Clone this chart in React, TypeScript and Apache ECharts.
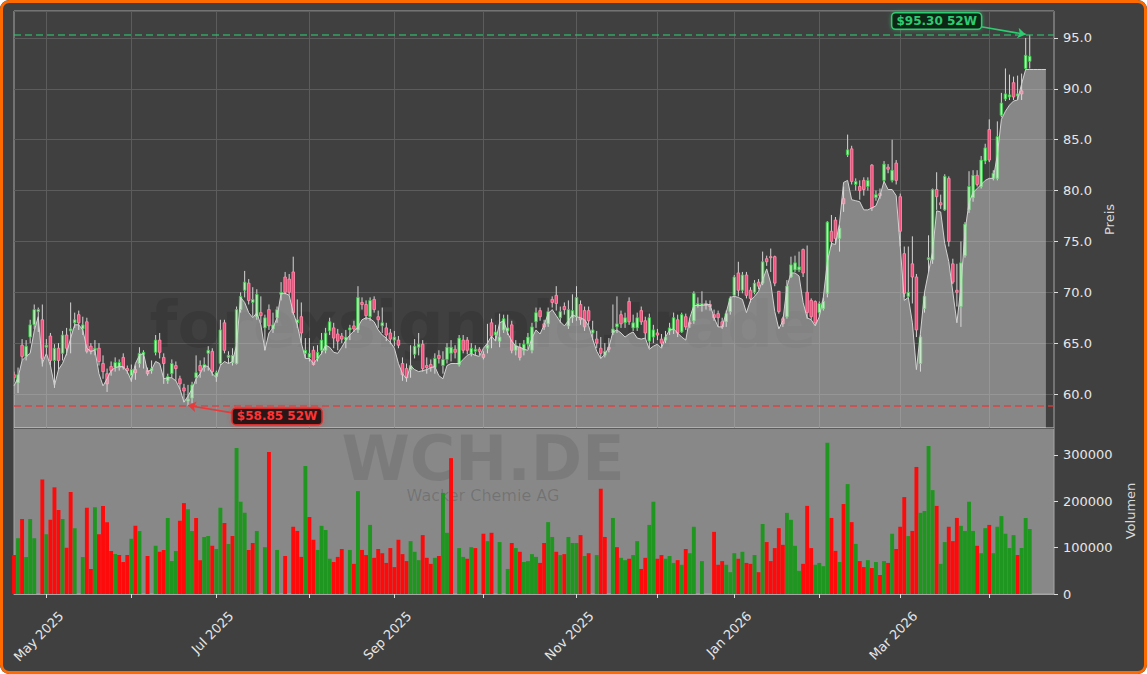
import React, { useEffect, useRef } from 'react';
import * as echarts from 'echarts';

// ---------- categories (Xetra trading days) ----------
const FIRST_TRADING_DAY = '2025-04-17';
const CATEGORY_COUNT = 258;
const EXCHANGE_HOLIDAYS = [
  '2025-04-18', '2025-04-21', '2025-05-01', '2025-12-24', '2025-12-25',
  '2025-12-26', '2025-12-31', '2026-01-01', '2026-04-03', '2026-04-06',
];
const MONTH_NAMES = ['Jan', 'Feb', 'Mar', 'Apr', 'May', 'Jun', 'Jul', 'Aug', 'Sep', 'Oct', 'Nov', 'Dec'];

// ---------- price data ----------
const OPEN = [
  61.9, 61.1, 64.8, 63.7, 65.6, 66.8, 68.1, 67.3, 64.6, 65.7, 63.3, 64.5, 64.0, 65.8, 66.2, 67.0, 67.8, 66.4, 67.1, 64.7,
  64.3, 64.5, 63.0, 62.0, 62.7, 62.6, 62.6, 63.6, 62.5, 61.8, 62.4, 63.0, 63.9, 62.3, 62.3, 64.1, 65.3, 63.6, 61.3, 62.0,
  62.8, 61.5, 60.6, 59.3, 59.6, 61.6, 62.8, 62.6, 64.0, 64.2, 61.7, 63.0, 67.0, 63.6, 63.1, 63.0, 68.3, 70.2, 70.9, 69.0,
  67.6, 68.0, 66.5, 68.3, 66.4, 67.5, 69.8, 71.5, 71.3, 72.0, 67.0, 67.6, 64.0, 63.6, 64.3, 63.5, 64.3, 64.3, 66.2, 66.5,
  65.9, 65.7, 65.3, 66.3, 66.7, 66.3, 69.0, 68.8, 67.6, 69.3, 67.6, 66.7, 66.5, 66.0, 65.3, 65.3, 63.0, 62.5, 62.4, 63.9,
  64.6, 64.9, 62.8, 62.9, 62.6, 63.8, 62.8, 63.4, 64.0, 64.4, 62.9, 65.3, 65.3, 64.0, 64.2, 64.4, 63.9, 64.5, 67.0, 65.8,
  65.2, 66.3, 66.2, 66.8, 64.3, 64.6, 64.3, 64.9, 64.3, 67.1, 68.2, 66.9, 66.9, 69.3, 69.7, 67.5, 68.6, 66.7, 67.5, 67.6,
  68.8, 68.2, 68.2, 66.0, 65.4, 64.5, 63.8, 64.6, 66.0, 66.6, 67.8, 67.0, 69.1, 66.5, 66.5, 68.2, 67.2, 65.2, 65.6, 66.0,
  65.4, 65.3, 66.2, 66.3, 67.3, 66.1, 67.6, 67.0, 67.2, 68.7, 68.7, 68.9, 68.8, 67.8, 67.9, 67.1, 67.1, 68.1, 69.7, 71.9,
  70.2, 71.7, 70.2, 70.0, 71.0, 70.9, 73.3, 73.5, 73.5, 70.1, 67.4, 67.6, 71.5, 72.2, 72.2, 74.2, 70.0, 69.2, 69.1, 68.0,
  68.4, 69.9, 76.0, 77.1, 75.3, 79.2, 83.5, 84.1, 80.6, 80.4, 81.0, 80.4, 82.5, 79.3, 79.7, 81.0, 82.3, 81.0, 82.7, 79.4,
  73.8, 69.6, 72.8, 71.5, 63.0, 68.4, 73.2, 73.2, 80.1, 78.8, 78.1, 81.2, 72.8, 70.2, 68.6, 73.6, 78.1, 79.3, 81.5, 80.4,
  82.9, 86.0, 81.2, 81.2, 87.4, 89.0, 89.2, 90.6, 89.3, 89.8, 92.0, 92.7,
];
const CLOSE = [
  61.6, 61.9, 63.7, 64.7, 66.8, 68.3, 68.3, 63.5, 64.8, 63.3, 64.5, 63.3, 65.8, 64.5, 66.4, 67.3, 67.0, 66.8, 64.2, 64.2,
  64.5, 63.2, 62.2, 61.0, 62.3, 63.1, 63.1, 62.6, 62.3, 62.4, 62.1, 64.0, 64.1, 62.0, 62.5, 65.3, 64.1, 63.0, 61.7, 63.0,
  62.5, 61.0, 60.3, 59.5, 60.9, 62.1, 62.3, 62.9, 64.3, 62.2, 62.1, 66.3, 64.3, 63.8, 63.8, 68.3, 69.6, 71.0, 69.2, 69.3,
  69.8, 67.7, 67.5, 66.7, 66.8, 68.3, 70.0, 70.0, 70.0, 68.0, 67.3, 66.0, 64.3, 64.0, 62.9, 64.1, 65.3, 66.0, 67.1, 65.5,
  65.2, 65.4, 65.6, 66.5, 66.4, 69.5, 68.8, 67.7, 69.2, 68.3, 67.3, 67.0, 65.8, 65.4, 65.6, 64.8, 61.9, 61.6, 62.8, 64.7,
  64.9, 62.5, 62.6, 62.6, 63.5, 63.5, 63.4, 64.6, 64.6, 64.1, 65.5, 64.3, 64.3, 64.5, 64.4, 64.2, 63.6, 64.8, 65.7, 66.1,
  65.6, 67.4, 66.5, 64.3, 64.8, 63.6, 64.9, 65.6, 66.6, 68.0, 67.6, 66.6, 68.1, 69.0, 68.9, 68.1, 68.3, 68.3, 68.2, 69.5,
  67.3, 66.6, 67.2, 66.3, 65.0, 64.0, 64.2, 64.4, 66.4, 66.9, 66.9, 67.5, 67.1, 67.0, 67.5, 67.1, 66.0, 67.5, 66.3, 65.8,
  65.0, 65.6, 66.5, 67.5, 66.0, 67.8, 66.6, 66.9, 69.9, 68.9, 68.9, 68.7, 68.6, 67.5, 67.5, 66.6, 67.9, 69.4, 71.5, 70.2,
  71.7, 69.7, 69.4, 70.9, 70.6, 73.0, 73.0, 73.4, 70.9, 68.1, 66.9, 70.6, 72.7, 72.9, 72.5, 71.9, 68.0, 67.6, 67.0, 68.9,
  69.1, 76.9, 75.0, 75.3, 76.3, 78.7, 84.0, 80.9, 80.9, 80.0, 80.1, 81.0, 78.3, 79.6, 79.5, 82.6, 82.1, 82.0, 81.0, 76.0,
  69.9, 70.0, 71.5, 66.3, 65.6, 69.6, 73.4, 80.1, 79.4, 78.6, 81.4, 75.0, 71.0, 70.0, 72.9, 76.7, 80.4, 81.5, 80.6, 83.0,
  84.2, 83.0, 81.7, 85.3, 88.6, 89.5, 89.4, 89.2, 89.5, 89.5, 93.3, 93.2,
];
const LOW = [
  61.2, 60.1, 63.3, 63.3, 65.0, 66.4, 66.1, 62.7, 64.0, 62.8, 60.6, 62.4, 63.3, 63.8, 64.0, 66.5, 66.3, 65.8, 64.0, 63.9,
  63.8, 62.8, 61.5, 60.2, 61.8, 62.2, 62.3, 62.4, 62.0, 61.2, 61.4, 62.6, 62.5, 61.8, 62.0, 63.8, 63.5, 61.0, 61.0, 61.6,
  61.3, 60.5, 59.2, 58.85, 59.1, 61.0, 61.6, 62.2, 62.3, 61.8, 61.2, 62.8, 64.0, 63.0, 62.8, 62.9, 68.0, 69.5, 68.8, 67.6,
  67.3, 67.0, 64.3, 66.3, 66.0, 67.0, 69.2, 69.8, 69.7, 67.8, 66.5, 65.0, 63.5, 63.2, 62.8, 63.2, 63.9, 64.0, 65.8, 64.5,
  64.3, 65.0, 64.5, 65.3, 66.1, 66.0, 68.3, 67.3, 67.2, 68.0, 66.5, 66.0, 65.2, 64.9, 64.7, 64.5, 61.3, 61.2, 61.6, 63.5,
  63.8, 62.2, 62.0, 62.2, 62.0, 63.0, 62.0, 63.0, 63.2, 63.5, 62.7, 64.0, 63.9, 63.7, 63.8, 63.8, 63.4, 64.0, 64.5, 65.2,
  64.6, 66.0, 65.8, 64.0, 63.8, 63.3, 63.8, 64.4, 64.0, 66.5, 67.2, 66.3, 66.6, 68.5, 68.2, 67.0, 67.8, 66.4, 67.0, 67.2,
  66.8, 66.2, 66.8, 65.3, 64.5, 63.5, 63.6, 64.1, 65.8, 66.0, 66.5, 66.5, 66.8, 66.2, 66.2, 66.8, 65.5, 64.5, 65.0, 65.3,
  64.6, 65.0, 65.8, 65.9, 65.6, 66.0, 66.3, 66.5, 66.9, 68.5, 68.1, 68.3, 68.2, 67.2, 66.6, 66.4, 66.6, 67.8, 69.5, 69.6,
  69.9, 69.4, 69.0, 69.8, 70.3, 70.7, 72.6, 72.0, 70.6, 67.9, 66.6, 67.4, 71.4, 72.0, 72.0, 71.5, 67.4, 67.3, 66.8, 67.6,
  68.2, 69.5, 74.5, 74.8, 74.0, 77.9, 83.3, 80.6, 80.0, 79.1, 79.5, 80.0, 78.0, 79.0, 79.2, 80.8, 81.7, 80.8, 80.6, 74.5,
  69.5, 69.5, 68.9, 65.6, 62.2, 68.0, 72.0, 72.8, 78.1, 78.2, 78.0, 74.5, 70.8, 68.6, 66.6, 73.4, 77.8, 78.9, 80.4, 80.2,
  82.6, 82.8, 81.0, 81.0, 87.2, 88.8, 88.9, 88.9, 88.9, 88.9, 91.9, 92.0,
];
const HIGH = [
  62.2, 62.6, 65.4, 65.3, 67.3, 68.8, 68.5, 68.8, 65.4, 66.0, 64.9, 65.0, 66.2, 66.5, 69.0, 68.0, 68.2, 67.6, 67.5, 65.0,
  65.3, 65.0, 63.8, 62.5, 63.2, 63.6, 63.4, 64.0, 62.8, 62.9, 62.8, 64.6, 64.3, 62.6, 63.3, 65.8, 66.0, 64.0, 62.0, 63.4,
  63.2, 61.8, 61.0, 60.9, 61.2, 63.8, 63.3, 63.6, 64.7, 64.5, 62.3, 67.3, 67.3, 64.2, 64.5, 68.6, 70.0, 72.1, 71.3, 70.5,
  70.3, 69.6, 67.8, 68.8, 68.0, 68.6, 71.0, 72.0, 71.8, 73.5, 69.3, 69.0, 65.5, 65.5, 64.7, 64.8, 66.0, 66.5, 67.5, 67.0,
  66.4, 66.0, 66.3, 66.8, 67.2, 70.6, 69.5, 69.2, 69.5, 69.6, 68.2, 68.5, 67.0, 66.4, 66.2, 65.7, 63.6, 63.0, 64.8, 65.4,
  66.0, 65.3, 63.6, 63.4, 64.0, 64.3, 64.2, 65.0, 65.3, 64.8, 65.8, 65.8, 65.6, 65.0, 64.8, 64.6, 64.2, 66.9, 67.4, 66.8,
  67.9, 67.8, 67.8, 67.2, 65.3, 65.0, 65.3, 66.0, 67.0, 68.5, 68.5, 67.3, 68.5, 69.6, 70.6, 68.6, 69.0, 69.2, 69.8, 70.6,
  69.2, 68.6, 68.6, 67.2, 66.2, 65.6, 65.0, 65.5, 68.8, 69.6, 68.2, 68.0, 69.5, 67.8, 68.0, 68.6, 67.6, 67.9, 66.8, 66.4,
  65.9, 66.2, 67.0, 68.0, 67.8, 68.0, 67.9, 67.3, 70.1, 69.5, 70.1, 69.2, 69.2, 68.3, 68.2, 67.5, 68.2, 69.6, 71.7, 73.0,
  72.0, 72.0, 70.5, 71.2, 71.3, 74.0, 73.6, 74.3, 73.6, 70.1, 67.6, 71.2, 73.5, 73.6, 74.0, 74.3, 74.6, 69.4, 69.2, 69.1,
  69.5, 77.0, 77.6, 77.4, 76.6, 80.4, 85.5, 84.4, 81.2, 81.0, 81.3, 81.3, 82.6, 80.0, 80.2, 82.9, 82.6, 85.0, 83.0, 79.7,
  74.5, 74.5, 75.5, 71.8, 65.8, 70.0, 75.6, 80.2, 81.8, 79.6, 81.6, 81.4, 73.3, 72.8, 75.0, 76.9, 81.9, 82.0, 82.0, 83.4,
  84.6, 87.0, 82.0, 86.8, 89.6, 92.0, 91.4, 91.2, 91.3, 91.5, 95.0, 95.3,
];
// light close-line area (extends a few sessions past the last candle)
const AREA_LINE = [
  60.8, 61.6, 63.3, 63.7, 64.0, 66.2, 67.6, 63.0, 64.0, 62.8, 60.8, 62.4, 63.0, 64.0, 65.5, 66.8, 66.8, 66.3, 64.5, 64.2,
  64.3, 62.0, 60.8, 61.5, 62.3, 62.6, 62.7, 62.7, 62.2, 61.3, 63.0, 63.8, 64.0, 62.2, 62.4, 63.2, 63.0, 61.5, 61.6, 61.6,
  61.3, 60.5, 59.2, 59.8, 60.5, 61.5, 62.0, 62.8, 62.7, 62.0, 61.6, 62.8, 63.2, 63.0, 63.2, 64.8, 69.5, 69.0, 68.0, 67.5,
  68.0, 66.8, 64.3, 66.0, 66.5, 67.5, 69.9, 69.9, 69.7, 68.0, 66.8, 65.0, 63.5, 63.5, 63.0, 63.5, 64.0, 64.8, 64.6, 64.1,
  64.0, 64.6, 65.3, 65.8, 66.2, 66.6, 67.3, 67.5, 67.4, 67.1, 66.3, 65.8, 65.5, 65.1, 64.5, 63.0, 62.0, 61.5, 62.8, 62.4,
  62.2, 62.3, 62.4, 62.6, 62.7, 61.8, 61.5, 62.8, 63.0, 63.0, 63.0, 63.4, 63.8, 64.0, 63.8, 63.7, 64.5, 65.0, 65.7, 65.2,
  67.0, 67.2, 66.0, 65.2, 64.7, 64.6, 64.4, 64.3, 65.5, 66.3, 65.9, 66.8, 67.9, 68.3, 67.7, 67.1, 66.7, 67.2, 67.8, 67.6,
  67.5, 67.3, 66.7, 65.4, 64.2, 63.5, 63.9, 64.6, 66.1, 66.3, 66.0, 65.6, 65.9, 66.1, 65.5, 65.4, 65.5, 64.4, 64.7, 64.9,
  64.5, 65.6, 66.3, 66.4, 66.0, 65.6, 65.3, 67.5, 68.7, 68.7, 68.7, 68.8, 68.8, 67.5, 66.6, 66.6, 68.0, 69.5, 69.6, 69.5,
  69.3, 68.0, 69.2, 69.6, 70.1, 71.2, 72.3, 70.9, 68.1, 66.4, 67.2, 70.5, 71.9, 71.9, 71.6, 69.0, 67.5, 67.3, 66.7, 67.6,
  69.5, 73.0, 74.8, 74.7, 76.8, 80.8, 81.0, 79.1, 79.0, 78.9, 78.1, 78.1, 78.3, 78.5, 79.5, 80.9, 80.1, 80.1, 79.5, 74.5,
  69.2, 69.5, 67.0, 62.4, 66.0, 70.0, 72.0, 74.0, 78.0, 77.9, 74.8, 73.0, 70.0, 67.0, 70.5, 76.0, 78.8, 79.8, 80.2, 80.6,
  81.0, 81.2, 81.2, 83.5, 87.0, 87.8, 88.4, 88.8, 88.9, 90.5, 91.9, 91.9, 91.9, 91.9, 91.9, 91.9,
];

// ---------- volume data ----------
const VOLUME = [
  84000, 120000, 162000, 80000, 162000, 120000, 0, 247000, 129000, 160000, 230000, 181000, 162000, 100000, 220000, 142000, 0, 80000, 186000, 54000,
  187000, 129000, 190000, 155000, 93000, 86000, 84000, 69000, 84000, 119000, 147000, 136000, 0, 82000, 0, 104000, 91000, 95000, 164000, 71000,
  93000, 158000, 196000, 183000, 136000, 164000, 73000, 123000, 125000, 104000, 97000, 186000, 153000, 108000, 125000, 315000, 199000, 175000, 95000, 110000,
  136000, 0, 101000, 306000, 0, 95000, 0, 82000, 0, 145000, 136000, 80000, 276000, 166000, 117000, 95000, 147000, 138000, 76000, 69000,
  80000, 97000, 0, 95000, 65000, 222000, 95000, 84000, 149000, 78000, 97000, 88000, 67000, 99000, 58000, 117000, 86000, 71000, 114000, 91000,
  73000, 127000, 78000, 65000, 78000, 82000, 218000, 132000, 293000, 0, 99000, 80000, 76000, 101000, 99000, 0, 130000, 114000, 132000, 0,
  112000, 0, 54000, 110000, 99000, 91000, 69000, 71000, 86000, 80000, 67000, 110000, 155000, 123000, 91000, 84000, 86000, 123000, 110000, 110000,
  127000, 82000, 88000, 0, 84000, 227000, 123000, 0, 164000, 101000, 78000, 73000, 76000, 84000, 114000, 54000, 78000, 149000, 199000, 76000,
  84000, 76000, 82000, 67000, 73000, 63000, 97000, 88000, 145000, 0, 71000, 0, 0, 134000, 63000, 71000, 63000, 47000, 88000, 76000,
  91000, 67000, 65000, 84000, 47000, 151000, 112000, 71000, 99000, 142000, 106000, 175000, 160000, 104000, 50000, 65000, 190000, 99000, 63000, 67000,
  60000, 326000, 164000, 93000, 69000, 194000, 237000, 155000, 108000, 71000, 58000, 73000, 56000, 69000, 41000, 71000, 67000, 130000, 97000, 145000,
  209000, 125000, 136000, 274000, 175000, 179000, 319000, 224000, 190000, 65000, 112000, 145000, 114000, 164000, 147000, 136000, 199000, 136000, 104000, 88000,
  142000, 149000, 88000, 145000, 168000, 130000, 99000, 127000, 84000, 99000, 164000, 140000,
];
const VOLUME_UP = [
  0, 1, 0, 1, 1, 1, 1, 0, 1, 0, 0, 0, 1, 0, 0, 1, 1, 1, 0, 0,
  1, 0, 0, 0, 0, 1, 0, 0, 0, 1, 0, 1, 1, 0, 1, 1, 0, 0, 1, 1,
  1, 0, 0, 1, 1, 0, 0, 1, 1, 0, 1, 1, 0, 1, 0, 1, 1, 1, 0, 0,
  1, 1, 1, 0, 1, 1, 1, 0, 1, 0, 0, 0, 1, 0, 0, 1, 1, 1, 1, 0,
  0, 0, 1, 1, 0, 1, 0, 0, 1, 0, 0, 0, 0, 0, 0, 0, 0, 0, 1, 1,
  1, 0, 0, 0, 1, 0, 1, 1, 0, 1, 1, 1, 0, 1, 0, 1, 0, 1, 0, 1,
  1, 1, 1, 0, 1, 0, 1, 1, 1, 1, 0, 0, 1, 1, 0, 1, 0, 1, 1, 1,
  0, 1, 0, 1, 1, 0, 0, 1, 1, 0, 1, 1, 0, 1, 1, 0, 0, 1, 1, 0,
  0, 1, 1, 1, 0, 1, 0, 1, 1, 1, 1, 1, 1, 0, 0, 0, 1, 1, 1, 0,
  1, 0, 0, 1, 0, 1, 0, 0, 0, 0, 0, 1, 1, 1, 1, 0, 0, 0, 1, 1,
  1, 1, 0, 0, 1, 0, 1, 0, 1, 0, 0, 1, 0, 1, 0, 1, 0, 1, 0, 0,
  0, 1, 0, 0, 1, 1, 1, 1, 0, 1, 1, 0, 0, 0, 1, 1, 1, 1, 0, 1,
  1, 0, 1, 1, 1, 1, 1, 1, 0, 1, 1, 1,
];

// ---------- 52-week markers ----------
const HIGH_52W = 95.3;
const LOW_52W = 58.85;
const HIGH_52W_INDEX = 250;
const LOW_52W_INDEX = 43;

const TICKER = 'WCH.DE';
const COMPANY = 'Wacker Chemie AG';
const SITE_WATERMARK = 'forexsignale.trade';

function buildTradingDays(): string[] {
  const out: string[] = [];
  const d = new Date(FIRST_TRADING_DAY + 'T00:00:00Z');
  while (out.length < CATEGORY_COUNT) {
    const iso = d.toISOString().slice(0, 10);
    const wd = d.getUTCDay();
    if (wd !== 0 && wd !== 6 && !EXCHANGE_HOLIDAYS.includes(iso)) out.push(iso);
    d.setUTCDate(d.getUTCDate() + 1);
  }
  return out;
}

export default function App() {
  const ref = useRef<HTMLDivElement>(null);

  useEffect(() => {
    if (!ref.current) return;
    const chart = echarts.init(ref.current, undefined, { renderer: 'svg' });
    const DATES = buildTradingDays();
    const monthStart = new Set<number>();
    const labelled = new Set<number>();
    for (let i = 1; i < DATES.length; i++) {
      if (DATES[i].slice(5, 7) !== DATES[i - 1].slice(5, 7)) {
        monthStart.add(i);
        const m = parseInt(DATES[i].slice(5, 7), 10) - 1;
        if (m % 2 === 0) labelled.add(i);
      }
    }
    const candleData = OPEN.map((o, k) => [k, o, CLOSE[k], LOW[k], HIGH[k]]);
    const volData = VOLUME.map((v, k) => ({
      value: v,
      itemStyle: { color: VOLUME_UP[k] ? '#1f961f' : '#ff0a0a' },
    }));

    const font = 'DejaVu Sans';
    const axisText = '#e6e6e6';
    const gridLine = '#5c5c5c';

    const option: any = {
      animation: false,
      backgroundColor: 'transparent',
      textStyle: { fontFamily: font },
      grid: [
        { left: 14, top: 11, width: 1040, height: 417, containLabel: false, outerBoundsMode: 'none', show: true, borderColor: '#a6a6a6', borderWidth: 1, backgroundColor: 'transparent' },
        { left: 14, top: 428, width: 1040, height: 166, containLabel: false, outerBoundsMode: 'none', show: true, borderColor: '#a6a6a6', borderWidth: 1, backgroundColor: '#888888' },
      ],
      xAxis: [
        {
          type: 'category', gridIndex: 0, data: DATES, boundaryGap: false,
          axisLine: { show: false }, axisTick: { show: false }, axisLabel: { show: false },
          splitLine: { show: true, interval: (i: number) => monthStart.has(i), lineStyle: { color: gridLine, width: 1 } },
        },
        {
          type: 'category', gridIndex: 1, data: DATES, boundaryGap: false,
          axisLine: { show: true, lineStyle: { color: '#a6a6a6' } },
          axisTick: { show: true, interval: (i: number) => monthStart.has(i), length: 4, lineStyle: { color: '#dddddd' } },
          axisLabel: {
            show: true, interval: (i: number) => labelled.has(i), rotate: 45, margin: 5,
            color: axisText, fontSize: 13, fontFamily: font,
            verticalAlign: 'top', lineHeight: 42,
            formatter: (v: string) => MONTH_NAMES[parseInt(v.slice(5, 7), 10) - 1] + ' ' + v.slice(0, 4),
          },
          splitLine: { show: false },
        },
      ],
      yAxis: [
        {
          type: 'value', gridIndex: 0, position: 'right', min: 56.66, max: 97.65, splitNumber: 8,
          axisLine: { show: false },
          axisTick: { show: true, length: 4, lineStyle: { color: '#dddddd' } },
          axisLabel: { color: axisText, fontSize: 13, margin: 9, showMinLabel: false, showMaxLabel: false, formatter: (v: number) => v.toFixed(1) },
          splitLine: { show: true, lineStyle: { color: gridLine, width: 1 } },
          name: 'Preis', nameLocation: 'middle', nameRotate: 90, nameGap: 42,
          nameTextStyle: { color: '#d9d9d9', fontSize: 13 },
        },
        {
          type: 'value', gridIndex: 1, position: 'right', min: 0, max: 358000, splitNumber: 3,
          axisLine: { show: false },
          axisTick: { show: true, length: 4, lineStyle: { color: '#dddddd' } },
          axisLabel: { color: axisText, fontSize: 13, margin: 9, showMaxLabel: false, formatter: (v: number) => String(v) },
          splitLine: { show: false },
          name: 'Volumen', nameLocation: 'middle', nameRotate: 90, nameGap: 61,
          nameTextStyle: { color: '#d9d9d9', fontSize: 13 },
        },
      ],
      graphic: [
        { type: 'text', x: 483, y: 325, z: 1, silent: true, style: { text: SITE_WATERMARK, font: 'bold 64px "DejaVu Sans"', fill: 'rgba(0,0,0,0.11)', align: 'center', verticalAlign: 'middle' } },
        { type: 'text', x: 483, y: 458, z: 1, silent: true, style: { text: TICKER, font: 'bold 62px "DejaVu Sans"', fill: 'rgba(0,0,0,0.09)', align: 'center', verticalAlign: 'middle' } },
        { type: 'text', x: 483, y: 495, z: 1, silent: true, style: { text: COMPANY, font: '16px "DejaVu Sans"', fill: 'rgba(0,0,0,0.16)', align: 'center', verticalAlign: 'middle' } },
      ],
      series: [
        {
          type: 'custom', name: 'Kurs', xAxisIndex: 0, yAxisIndex: 0, z: 2, clip: true,
          data: candleData,
          encode: { x: 0, y: [1, 2, 3, 4] },
          renderItem: (params: any, api: any) => {
            const k = api.value(0);
            const o = api.value(1), c = api.value(2), l = api.value(3), h = api.value(4);
            const pO = api.coord([k, o]);
            const pC = api.coord([k, c]);
            const pL = api.coord([k, l]);
            const pH = api.coord([k, h]);
            const w = api.size([1, 0])[0] * 0.62;
            const up = c >= o;
            const top = Math.min(pO[1], pC[1]);
            const bh = Math.max(Math.abs(pO[1] - pC[1]), 1);
            return {
              type: 'group',
              children: [
                { type: 'line', shape: { x1: pL[0], y1: pL[1], x2: pH[0], y2: pH[1] }, style: { stroke: '#d4d4d4', lineWidth: 1 } },
                {
                  type: 'rect', shape: { x: pO[0] - w / 2, y: top, width: w, height: bh },
                  style: up ? { fill: '#b8f0b8', stroke: '#35c845', lineWidth: 0.9 } : { fill: '#f2507e', stroke: '#ff8aa8', lineWidth: 0.9 },
                },
              ],
            };
          },
        },
        {
          type: 'line', name: 'Linie', xAxisIndex: 0, yAxisIndex: 0, z: 3,
          data: AREA_LINE, symbol: 'none', smooth: false,
          lineStyle: { color: '#d2d2d2', width: 1 },
          areaStyle: { color: 'rgba(222,222,222,0.45)', opacity: 1, origin: 'start' },
          markLine: {
            silent: true, z: 6, symbol: ['none', 'none'], label: { show: false },
            data: [
              { yAxis: HIGH_52W, lineStyle: { color: 'rgba(46,204,113,0.72)', width: 1.6, type: [7, 4] } },
              { yAxis: LOW_52W, lineStyle: { color: 'rgba(232,58,58,0.85)', width: 1.6, type: [7, 4] } },
              [
                { coord: [DATES[239], 96.1], symbol: 'none', lineStyle: { color: '#2ecc71', width: 1.6, type: 'solid' } },
                { coord: [DATES[HIGH_52W_INDEX], HIGH_52W + 0.05], symbol: 'arrow', symbolSize: 8 },
              ],
              [
                { coord: [DATES[54], 58.15], symbol: 'none', lineStyle: { color: '#e83a3a', width: 1.6, type: 'solid' } },
                { coord: [DATES[LOW_52W_INDEX], LOW_52W + 0.03], symbol: 'arrow', symbolSize: 8 },
              ],
            ],
          },
          markPoint: {
            silent: true, z: 7,
            data: [
              {
                coord: [DATES[228], 96.67], symbol: 'rect', symbolSize: [1, 1], itemStyle: { color: 'rgba(0,0,0,0)' },
                label: {
                  show: true, position: 'inside', formatter: '$' + HIGH_52W.toFixed(2) + ' 52W',
                  color: '#2ecc71', fontWeight: 'bold', fontSize: 12, fontFamily: font,
                  backgroundColor: '#0d2616', borderColor: '#2ecc71', borderWidth: 1.5, borderRadius: 3,
                  padding: [2, 4, 1, 4], shadowColor: 'rgba(46,204,113,0.5)', shadowBlur: 4,
                },
              },
              {
                coord: [DATES[65], 57.8], symbol: 'rect', symbolSize: [1, 1], itemStyle: { color: 'rgba(0,0,0,0)' },
                label: {
                  show: true, position: 'inside', formatter: '$' + LOW_52W.toFixed(2) + ' 52W',
                  color: '#ff3434', fontWeight: 'bold', fontSize: 12, fontFamily: font,
                  backgroundColor: '#2a1212', borderColor: '#d42d2d', borderWidth: 1.5, borderRadius: 3,
                  padding: [2, 4, 1, 4], shadowColor: 'rgba(255,40,40,0.5)', shadowBlur: 4,
                },
              },
            ],
          },
        },
        {
          type: 'bar', name: 'Volumen', xAxisIndex: 1, yAxisIndex: 1, z: 2,
          data: volData, barCategoryGap: '4%',
        },
      ],
    };
    chart.setOption(option);
    return () => chart.dispose();
  }, []);

  return (
    <div style={{ position: 'fixed', left: 0, top: 0, width: 1147, height: 674, borderRadius: 9, overflow: 'hidden', background: '#404040' }}>
      <div ref={ref} style={{ position: 'absolute', left: 0, top: 0, width: 1147, height: 674 }} />
      <div style={{ position: 'absolute', left: 0, top: 0, width: 1147, height: 674, border: '3px solid #ff6a00', borderRadius: 9, boxSizing: 'border-box', pointerEvents: 'none' }} />
    </div>
  );
}
